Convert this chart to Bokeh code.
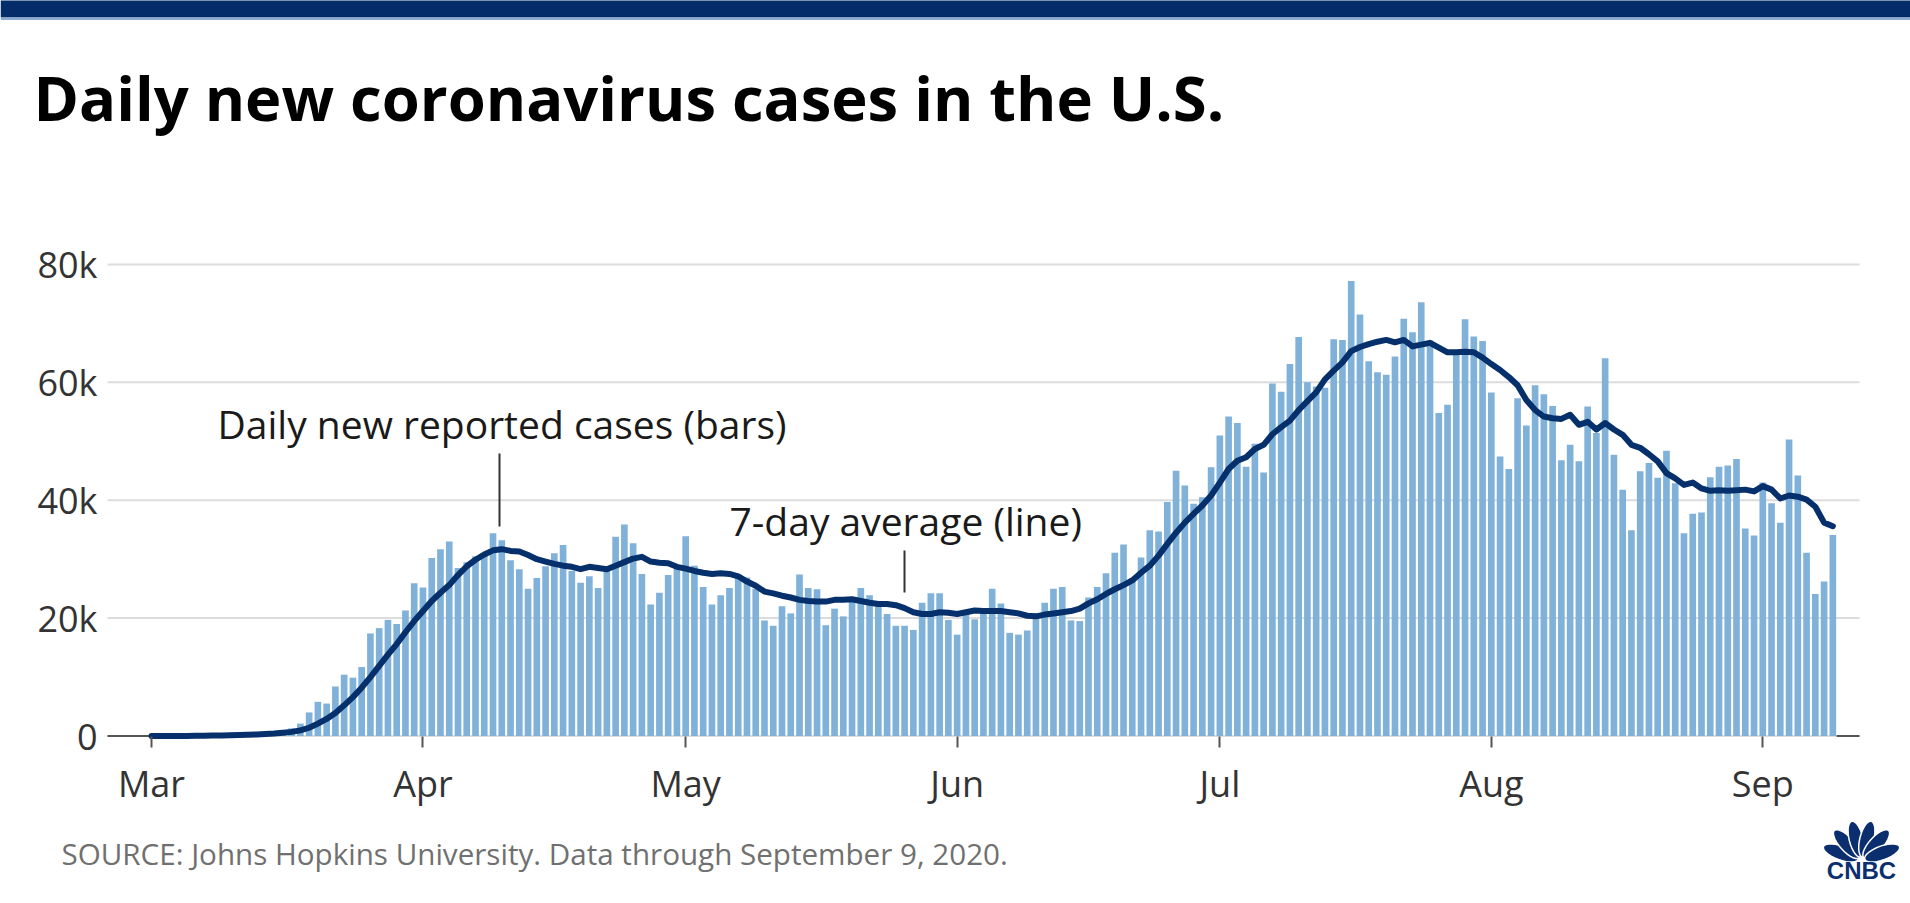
import math
import pandas as pd
from bokeh.plotting import figure
from bokeh.models import (Range1d, FixedTicker, DatetimeTickFormatter, NumeralTickFormatter,
                          Label, BoxAnnotation, ColumnDataSource)
from bokeh.embed import file_html
from bokeh.resources import INLINE

# ---------------- data (thousands of cases), one value per day from 2020-03-01 ----------------
start_date = "2020-03-01"
daily_cases_k = [
    0.01, 0.02, 0.02, 0.03, 0.05, 0.07, 0.1, 0.12, 0.15, 0.2,
    0.3, 0.4, 0.5, 0.6, 0.7, 0.9, 1.3, 2.1, 4.0, 5.8,
    5.5, 8.4, 10.4, 9.9, 11.7, 17.4, 18.3, 19.7, 19.0, 21.3,
    25.9, 25.2, 30.2, 31.7, 33.0, 28.5, 29.5, 30.5, 31.0, 34.4,
    33.2, 29.8, 28.3, 25.0, 26.8, 28.8, 31.0, 32.4, 28.0, 26.0,
    27.1, 25.1, 28.0, 33.8, 35.9, 32.7, 27.5, 22.3, 24.3, 27.3,
    28.5, 33.9, 28.9, 25.3, 22.3, 23.9, 25.1, 27.2, 26.9, 25.0,
    19.6, 18.7, 22.0, 20.8, 27.4, 25.1, 24.9, 18.8, 21.6, 20.3,
    23.1, 25.1, 23.9, 22.8, 20.7, 18.7, 18.7, 18.0, 22.6, 24.2,
    24.2, 19.7, 17.2, 21.2, 19.8, 21.0, 25.0, 22.5, 17.5, 17.2,
    17.9, 20.0, 22.6, 25.0, 25.3, 19.6, 19.5, 23.5, 25.3, 27.6,
    31.1, 32.5, 26.8, 30.3, 34.9, 34.7, 39.7, 45.0, 42.5, 39.4,
    40.5, 45.6, 51.0, 54.2, 53.1, 45.7, 49.6, 44.7, 59.8, 58.4,
    63.1, 67.7, 60.0, 59.3, 59.1, 67.3, 67.2, 77.2, 71.5, 63.6,
    61.7, 61.3, 64.4, 70.8, 68.5, 73.6, 67.1, 54.8, 56.2, 65.0,
    70.7, 67.8, 67.0, 58.3, 47.4, 45.3, 57.3, 52.7, 59.5, 58.0,
    56.0, 46.8, 49.4, 46.6, 55.9, 51.4, 64.1, 47.7, 41.8, 34.9,
    44.9, 46.3, 43.8, 48.4, 42.9, 34.4, 37.7, 37.9, 43.9, 45.7,
    45.9, 47.0, 35.2, 34.0, 43.0, 39.5, 36.2, 50.3, 44.2, 31.1,
    24.1, 26.2, 34.1,
]
seven_day_avg_k = [
    0.0, 0.0, 0.01, 0.01, 0.02, 0.03, 0.05, 0.07, 0.09, 0.12,
    0.15, 0.2, 0.26, 0.33, 0.42, 0.55, 0.7, 0.95, 1.4, 2.1,
    2.9, 3.9, 5.2, 6.6, 8.2, 10.0, 11.9, 13.8, 15.6, 17.6,
    19.5, 21.2, 22.9, 24.3, 25.6, 27.3, 28.8, 29.9, 30.8, 31.5,
    31.7, 31.4, 31.3, 30.7, 30.0, 29.6, 29.2, 28.9, 28.7, 28.3,
    28.7, 28.5, 28.3, 28.9, 29.5, 30.1, 30.4, 29.6, 29.4, 29.3,
    28.7, 28.4, 28.0, 27.7, 27.5, 27.6, 27.5, 27.1, 26.2, 25.5,
    24.5, 24.2, 23.8, 23.5, 23.1, 22.9, 22.8, 22.8, 23.1, 23.1,
    23.2, 22.9, 22.6, 22.4, 22.4, 22.2, 21.7, 21.0, 20.7, 20.7,
    21.0, 20.9, 20.7, 21.0, 21.3, 21.2, 21.2, 21.2, 21.0, 20.8,
    20.4, 20.3, 20.6, 20.8, 21.0, 21.2, 21.6, 22.5, 23.2, 24.1,
    24.9, 25.6, 26.4, 27.7, 28.9, 30.6, 32.6, 34.5, 36.2, 37.7,
    39.1, 40.8, 43.0, 45.3, 46.7, 47.3, 48.7, 49.4, 51.2, 52.4,
    53.5, 55.3, 56.8, 58.3, 60.5, 62.0, 63.4, 65.3, 66.0, 66.5,
    66.9, 67.2, 66.8, 67.2, 66.1, 66.4, 66.7, 65.9, 65.1, 65.1,
    65.2, 65.1, 64.2, 63.1, 62.1, 60.9, 59.5, 57.0, 55.3, 54.2,
    53.9, 53.8, 54.5, 52.8, 53.3, 52.0, 53.1, 52.0, 51.1, 49.4,
    48.9, 47.8, 46.6, 44.6, 43.7, 42.6, 43.0, 42.0, 41.6, 41.7,
    41.6, 41.7, 41.8, 41.5, 42.4, 41.8, 40.3, 40.8, 40.6, 40.1,
    38.9, 36.2, 35.6,
]
month_ticks = ["2020-03-01", "2020-04-01", "2020-05-01", "2020-06-01",
               "2020-07-01", "2020-08-01", "2020-09-01"]
y_ticks = [0, 20000, 40000, 60000, 80000]

title_text = "Daily new coronavirus cases in the U.S."
bars_note = "Daily new reported cases (bars)"
line_note = "7-day average (line)"
source_text = "SOURCE: Johns Hopkins University. Data through September 9, 2020."

# ---------------- geometry (the plot frame covers the whole canvas) ----------------
W, H = 1910, 903
PX_PER_DAY = 8.757      # horizontal pixels per day
PX_PER_K = 5.894        # vertical pixels per 1,000 cases
MAR1_PX = 151.0         # pixel column of the first day
ZERO_PX = 735.5         # pixel row of the zero line
DAY_MS = 86400000.0
t0 = pd.Timestamp(start_date).value / 1e6
x_start = t0 - MAR1_PX / PX_PER_DAY * DAY_MS
x_end = x_start + W / PX_PER_DAY * DAY_MS


def X(px):
    return x_start + px / PX_PER_DAY * DAY_MS


def Y(py):
    return (ZERO_PX - py) / PX_PER_K * 1000.0


def baseline_y(py, size):
    # with text_baseline="alphabetic" the glyphs land ~0.41em below the anchor
    return Y(py - 0.41 * size)


dates = pd.date_range(start_date, periods=len(daily_cases_k), freq="D")
src = ColumnDataSource(dict(
    date=dates,
    cases=[v * 1000 for v in daily_cases_k],
    avg=[v * 1000 for v in seven_day_avg_k],
))

p = figure(width=W, height=H, x_axis_type="datetime", output_backend="svg",
           toolbar_location=None, x_range=Range1d(x_start, x_end),
           y_range=Range1d(Y(H), Y(0)),
           min_border_left=0, min_border_right=0, min_border_top=0, min_border_bottom=0)
p.title.visible = False
p.outline_line_color = None
p.background_fill_color = "white"
p.border_fill_color = "white"

NAVY = "#06306c"
BAR = "#80b1d9"
FONT = "Open Sans"

# horizontal grid lines at the y ticks, spanning the chart area only
GRID_L, GRID_R = X(107), X(1859)
p.segment(x0=[GRID_L] * len(y_ticks), x1=[GRID_R] * len(y_ticks), y0=y_ticks, y1=y_ticks,
          line_color="#dcdcdc", line_width=2)
# dark baseline outside the data
last = dates[-1].value / 1e6
p.segment(x0=[GRID_L, last + 0.42 * DAY_MS], x1=[t0, GRID_R], y0=[0, 0], y1=[0, 0],
          line_color="#555555", line_width=2)

p.vbar(x="date", top="cases", bottom=0, width=0.76 * DAY_MS, source=src,
       fill_color=BAR, line_color=None)
p.line(x="date", y="avg", source=src, line_width=6, line_color=NAVY,
       line_join="round", line_cap="round")

# axes drawn at fixed places inside the canvas
p.yaxis.fixed_location = GRID_L
p.yaxis.ticker = FixedTicker(ticks=y_ticks)
p.yaxis.formatter = NumeralTickFormatter(format="0a")
p.yaxis.axis_line_color = None
p.yaxis.major_tick_line_color = None
p.yaxis.minor_tick_line_color = None
p.yaxis.major_tick_out = 0
p.yaxis.major_tick_in = 0
p.yaxis.major_label_standoff = 10
p.yaxis.major_label_text_font = FONT
p.yaxis.major_label_text_font_size = "36px"
p.yaxis.major_label_text_color = "#333333"

tick_ms = [pd.Timestamp(d).value / 1e6 for d in month_ticks]
p.xaxis.fixed_location = 0
p.xaxis.ticker = FixedTicker(ticks=tick_ms)
p.xaxis.formatter = DatetimeTickFormatter(days="%b", months="%b", years="%b")
p.xaxis.axis_line_color = None
p.xaxis.major_tick_line_color = "#555555"
p.xaxis.major_tick_line_width = 2
p.xaxis.major_tick_in = 0
p.xaxis.major_tick_out = 11
p.xaxis.minor_tick_line_color = None
p.xaxis.major_label_standoff = 12
p.xaxis.major_label_text_font = FONT
p.xaxis.major_label_text_font_size = "36px"
p.xaxis.major_label_text_color = "#333333"

p.xgrid.grid_line_color = None
p.ygrid.grid_line_color = None

# header bar
p.add_layout(BoxAnnotation(top=Y(-5), bottom=Y(17), fill_color="#032c69", fill_alpha=1,
                           line_color=None))
p.add_layout(BoxAnnotation(top=Y(17), bottom=Y(19.5), fill_color="#8eaad0", fill_alpha=1,
                           line_color=None))

# title
p.add_layout(Label(x=X(33), y=baseline_y(121.5, 61.5), text=title_text, text_font=FONT,
                   text_font_style="bold", text_font_size="61.5px", text_color="#000000",
                   text_baseline="alphabetic", text_align="left"))

# annotations
p.add_layout(Label(x=X(217), y=baseline_y(439, 39), text=bars_note, text_font=FONT,
                   text_font_size="39px", text_color="#1a1a1a",
                   text_baseline="alphabetic", text_align="left"))
p.add_layout(Label(x=X(729), y=baseline_y(536, 39), text=line_note, text_font=FONT,
                   text_font_size="39px", text_color="#1a1a1a",
                   text_baseline="alphabetic", text_align="left"))
p.segment(x0=[X(499), X(904)], x1=[X(499), X(904)], y0=[Y(453), Y(550)], y1=[Y(526), Y(592)],
          line_color="#333333", line_width=2)

# source
p.add_layout(Label(x=X(61), y=baseline_y(865, 29.6), text=source_text, text_font=FONT,
                   text_font_size="29.6px", text_color="#707070",
                   text_baseline="alphabetic", text_align="left"))

# CNBC logo (peacock + wordmark)
base_x, base_y = 1861.0, 860.0
feather_xs, feather_ys = [], []
for ang in (-70, -42, -14, 14, 42, 70):
    a = math.radians(ang)
    cxp = base_x + 22 * math.sin(a)
    cyp = base_y - 22 * math.cos(a)
    xs, ys = [], []
    for k in range(28):
        t = 2 * math.pi * k / 28
        u = 18.5 * math.cos(t)
        v = 7.0 * math.sin(t)
        xs.append(X(cxp + u * math.sin(a) + v * math.cos(a)))
        ys.append(Y(cyp - u * math.cos(a) + v * math.sin(a)))
    feather_xs.append(xs)
    feather_ys.append(ys)
p.patches(xs=feather_xs, ys=feather_ys, fill_color="#0b2f6e", line_color="white", line_width=1.5)
p.add_layout(Label(x=X(1861), y=baseline_y(880, 24), text="CNBC", text_font="Liberation Sans",
                   text_font_style="bold", text_font_size="24px", text_color="#0b2f6e",
                   text_baseline="alphabetic", text_align="center"))

open("out.html", "w").write(file_html(p, INLINE))
